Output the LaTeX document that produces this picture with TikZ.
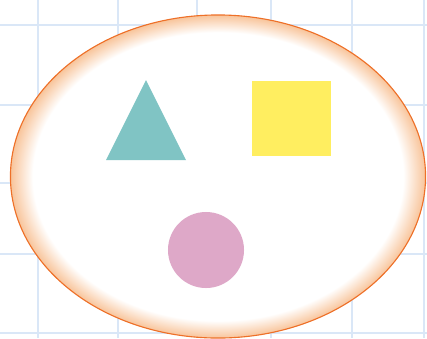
\documentclass[tikz,border=0pt]{standalone}
\usepackage{xcolor}
\usepackage{tikz}
\usetikzlibrary{shapes.geometric}

\definecolor{gridblue}{HTML}{DAE7F7}
\definecolor{rimorange}{HTML}{EE7028}
\definecolor{rimfade}{HTML}{F8C49A}
\definecolor{setteal}{HTML}{80C4C4}
\definecolor{sunyellow}{HTML}{FFEE60}
\definecolor{rosepink}{HTML}{DEA8C8}

\pgfdeclareradialshading{rimfade}{\pgfpoint{0bp}{0bp}}{%
  color(0bp)=(white); color(22.3bp)=(white);
  color(25bp)=(rimfade); color(50bp)=(rimfade)}

\begin{document}
\begin{tikzpicture}[
  x=0.025cm, y=-0.025cm,
  gridline/.style = {draw=gridblue, line width=0.065cm},
  bubble/.style   = {ellipse, draw=rimorange, line width=0.8pt,
                     shading=rimfade, inner sep=0pt,
                     minimum width=10.375cm, minimum height=8.075cm},
  sq/.style       = {rectangle, fill=#1, inner sep=0pt,
                     minimum width=1.975cm, minimum height=1.875cm},
  dot/.style      = {circle, fill=#1, inner sep=0pt, minimum size=1.9cm},
]
\useasboundingbox (0,0) rectangle (427,338);

%% background grid
\foreach \gx in {38, 118, 197, 271, 352, 424}
  \draw[gridline] (\gx,0) -- (\gx,338);
\foreach \gy in {25, 105, 183, 254, 333}
  \draw[gridline] (0,\gy) -- (427,\gy);

%% the set
\node[bubble] (set) at (218,176.5) {};

%% its members
\fill[setteal] (146,80) -- (186,160) -- (106,160) -- cycle;
\node[sq=sunyellow] (square) at (291.5,118.5) {};
\node[dot=rosepink] (disc)   at (206,250) {};

\end{tikzpicture}
\end{document}
